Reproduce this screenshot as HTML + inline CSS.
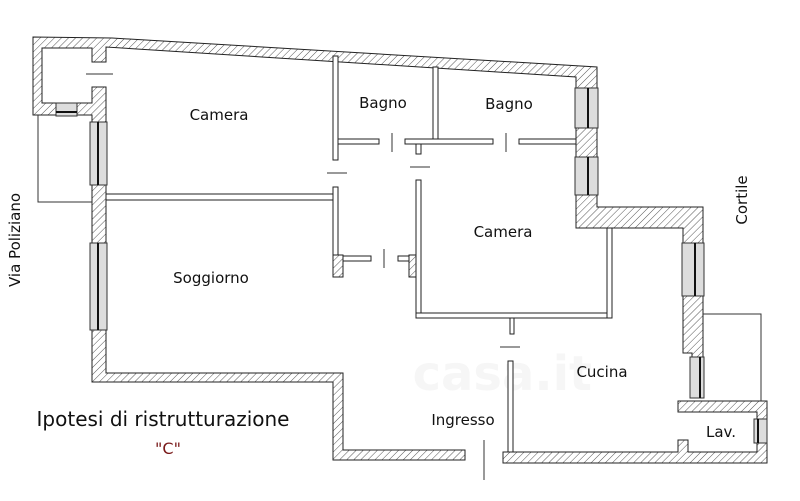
<!DOCTYPE html>
<html><head><meta charset="utf-8"><style>
html,body{margin:0;padding:0;background:#fff}
svg{display:block}
text{font-family:"DejaVu Sans","Liberation Sans",sans-serif;fill:#111}
</style></head><body>
<svg width="800" height="501" viewBox="0 0 800 501" xmlns="http://www.w3.org/2000/svg">
<defs>
<pattern id="h" patternUnits="userSpaceOnUse" width="5" height="5" patternTransform="rotate(45)">
<rect width="5" height="5" fill="#fff"/><line x1="0" y1="0" x2="0" y2="5" stroke="#555" stroke-width="1"/>
</pattern>
</defs>
<text x="592" y="390" font-size="48" font-weight="bold" style="fill:#f6f6f6" text-anchor="end">casa.it</text>
<g fill="url(#h)" stroke="#222" stroke-width="1">
<path d="M33,37 L112,38 L597,67 L597,88 L576,88 L576,77 L106,47 L106,62 L92,62 L92,48 L42,48 L42,103 L92,103 L92,87 L106,87 L106,122 L92,122 L92,115 L33,115 Z"/>
<rect x="576" y="128" width="21" height="29"/>
<path d="M576,195 L597,195 L597,207 L703,207 L703,243 L683,243 L683,228 L576,228 Z"/>
<path d="M683,296 L703,296 L703,357 L692,357 L692,353 L683,353 Z"/>
<rect x="92" y="185" width="14" height="58"/>
<path d="M92,330 L106,330 L106,373 L343,373 L343,450 L465,450 L465,460 L333,460 L333,382 L92,382 Z"/>
<path d="M678,401 L767,401 L767,463 L503,463 L503,452 L678,452 L678,440 L688,440 L688,452 L757,452 L757,412 L678,412 Z"/>
<rect x="333" y="255" width="10" height="22"/>
<rect x="409" y="255" width="8" height="22"/>
</g>
<g fill="#ddd" stroke="#333" stroke-width="1">
<rect x="56" y="103" width="21" height="13"/>
<rect x="90" y="122" width="17" height="63"/>
<rect x="90" y="243" width="17" height="87"/>
<rect x="575" y="88" width="23" height="40"/>
<rect x="575" y="157" width="23" height="38"/>
<rect x="682" y="243" width="22" height="53"/>
<rect x="690" y="357" width="14" height="41"/>
<rect x="754" y="419" width="13" height="24"/>
</g>
<g stroke="#111" stroke-width="2">
<line x1="56" y1="112" x2="77" y2="112"/>
<line x1="98" y1="122" x2="98" y2="185"/>
<line x1="98" y1="243" x2="98" y2="330"/>
<line x1="588" y1="88" x2="588" y2="128"/>
<line x1="588" y1="157" x2="588" y2="195"/>
<line x1="695" y1="243" x2="695" y2="296"/>
<line x1="700" y1="357" x2="700" y2="398"/>
<line x1="758" y1="419" x2="758" y2="443"/>
</g>
<g fill="#fff" stroke="#222" stroke-width="1">
<rect x="106" y="194" width="227" height="6"/>
<rect x="333" y="56" width="5" height="104"/>
<rect x="333" y="187" width="5" height="68"/>
<rect x="338" y="139" width="41" height="5"/>
<rect x="343" y="256" width="28" height="5"/>
<rect x="398" y="256" width="11" height="5"/>
<rect x="433" y="67" width="5" height="72"/>
<rect x="405" y="139" width="88" height="5"/>
<rect x="416" y="144" width="5" height="10"/>
<rect x="519" y="139" width="57" height="5"/>
<rect x="416" y="180" width="5" height="138"/>
<rect x="416" y="313" width="196" height="5"/>
<rect x="607" y="228" width="5" height="90"/>
<rect x="510" y="318" width="4" height="16"/>
<rect x="508" y="361" width="5" height="91"/>
</g>
<g stroke="#333" stroke-width="1" fill="none">
<line x1="86" y1="74" x2="113" y2="74"/>
<line x1="392" y1="133" x2="392" y2="152"/>
<line x1="506" y1="133" x2="506" y2="152"/>
<line x1="410" y1="167" x2="430" y2="167"/>
<line x1="327" y1="173" x2="347" y2="173"/>
<line x1="384" y1="249" x2="384" y2="268"/>
<line x1="500" y1="347" x2="520" y2="347"/>
<line x1="484" y1="440" x2="484" y2="480"/>
<polyline points="38,115 38,202 92,202"/>
<polyline points="703,314 761,314 761,401"/>
</g>
<g font-size="15">
<text x="219" y="120" text-anchor="middle">Camera</text>
<text x="383" y="108" text-anchor="middle">Bagno</text>
<text x="509" y="109" text-anchor="middle">Bagno</text>
<text x="503" y="237" text-anchor="middle">Camera</text>
<text x="211" y="283" text-anchor="middle">Soggiorno</text>
<text x="602" y="377" text-anchor="middle">Cucina</text>
<text x="463" y="425" text-anchor="middle">Ingresso</text>
<text x="721" y="437" text-anchor="middle">Lav.</text>
<text transform="translate(747,200) rotate(-90)" text-anchor="middle">Cortile</text>
<text transform="translate(20,240) rotate(-90)" text-anchor="middle">Via Poliziano</text>
</g>
<text x="163" y="426" font-size="20" text-anchor="middle">Ipotesi di ristrutturazione</text>
<text x="168" y="454" font-size="16" text-anchor="middle" style="fill:#7a1a1a">"C"</text>
</svg>
</body></html>
